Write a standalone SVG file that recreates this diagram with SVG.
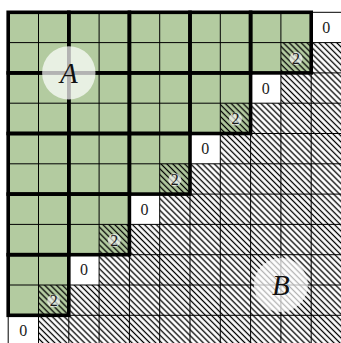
<svg xmlns="http://www.w3.org/2000/svg" width="341" height="343" viewBox="0 0 341 343">
<defs>
<style>
.thin{stroke:#000;stroke-width:1;fill:none}
.thick{stroke:#000;stroke-width:3.6;fill:none}
.num{font-family:"Liberation Serif","DejaVu Serif",serif;font-size:16px;fill:#1a1a1a;text-anchor:middle}
.big{font-family:"Liberation Serif","DejaVu Serif",serif;font-style:italic;font-size:29px;fill:#111;text-anchor:middle}
.disk{fill:#fff;fill-opacity:0.65}
.bigdisk{fill:#fff;fill-opacity:0.7}
</style>
<pattern id="hatch" patternUnits="userSpaceOnUse" width="4.2" height="4.2" patternTransform="rotate(-45)">
<line x1="2.1" y1="0" x2="2.1" y2="4.2" stroke="#000" stroke-width="1.3"/>
</pattern>
</defs>
<rect width="341" height="343" fill="#fff"/>
<g id="green-region">
<path d="M8.2,12.3 H311.2 V72.9 H250.6 V133.5 H190 V194.1 H129.4 V254.7 H68.8 V315.3 H8.2 Z" fill="#b3cba0"/>
</g>
<g id="hatched-region">
<path d="M280.9,42.6 H341.5 V345.6 H38.5 V285 H99.1 V224.4 H159.7 V163.8 H220.3 V103.2 H280.9 Z" fill="url(#hatch)"/>
</g>
<g id="grid">
<path class="thin" d="M8.2,12.3V345.6M38.5,12.3V345.6M68.8,12.3V345.6M99.1,12.3V345.6M129.4,12.3V345.6M159.7,12.3V345.6M190,12.3V345.6M220.3,12.3V345.6M250.6,12.3V345.6M280.9,12.3V345.6M311.2,12.3V345.6M341.5,12.3V345.6M8.2,12.3H341.5M8.2,42.6H341.5M8.2,72.9H341.5M8.2,103.2H341.5M8.2,133.5H341.5M8.2,163.8H341.5M8.2,194.1H341.5M8.2,224.4H341.5M8.2,254.7H341.5M8.2,285H341.5M8.2,315.3H341.5M8.2,345.6H341.5"/>
</g>
<g id="blocks" class="thick">
<rect x="8.2" y="12.3" width="60.6" height="60.6"/>
<rect x="68.8" y="12.3" width="60.6" height="60.6"/>
<rect x="129.4" y="12.3" width="60.6" height="60.6"/>
<rect x="190" y="12.3" width="60.6" height="60.6"/>
<rect x="250.6" y="12.3" width="60.6" height="60.6"/>
<rect x="8.2" y="72.9" width="60.6" height="60.6"/>
<rect x="68.8" y="72.9" width="60.6" height="60.6"/>
<rect x="129.4" y="72.9" width="60.6" height="60.6"/>
<rect x="190" y="72.9" width="60.6" height="60.6"/>
<rect x="8.2" y="133.5" width="60.6" height="60.6"/>
<rect x="68.8" y="133.5" width="60.6" height="60.6"/>
<rect x="129.4" y="133.5" width="60.6" height="60.6"/>
<rect x="8.2" y="194.1" width="60.6" height="60.6"/>
<rect x="68.8" y="194.1" width="60.6" height="60.6"/>
<rect x="8.2" y="254.7" width="60.6" height="60.6"/>
</g>
<g id="zeros">
<text class="num" x="326.35" y="33">0</text>
<text class="num" x="265.75" y="93.6">0</text>
<text class="num" x="205.15" y="154.2">0</text>
<text class="num" x="144.55" y="214.8">0</text>
<text class="num" x="83.95" y="275.4">0</text>
<text class="num" x="23.35" y="336">0</text>
</g>
<g id="twos">
<circle class="disk" cx="296.05" cy="58.5" r="6.5"/>
<text class="num" x="296.05" y="63.8">2</text>
<circle class="disk" cx="235.45" cy="119.1" r="6.5"/>
<text class="num" x="235.45" y="124.4">2</text>
<circle class="disk" cx="174.85" cy="179.7" r="6.5"/>
<text class="num" x="174.85" y="185">2</text>
<circle class="disk" cx="114.25" cy="240.3" r="6.5"/>
<text class="num" x="114.25" y="245.6">2</text>
<circle class="disk" cx="53.65" cy="300.9" r="6.5"/>
<text class="num" x="53.65" y="306.2">2</text>
</g>
<g id="A">
<circle class="bigdisk" cx="68.8" cy="72.9" r="26.7"/>
<text class="big" x="68.8" y="83">A</text>
</g>
<g id="B">
<circle class="bigdisk" cx="280.9" cy="285" r="27"/>
<text class="big" x="280.9" y="295">B</text>
</g>
</svg>
